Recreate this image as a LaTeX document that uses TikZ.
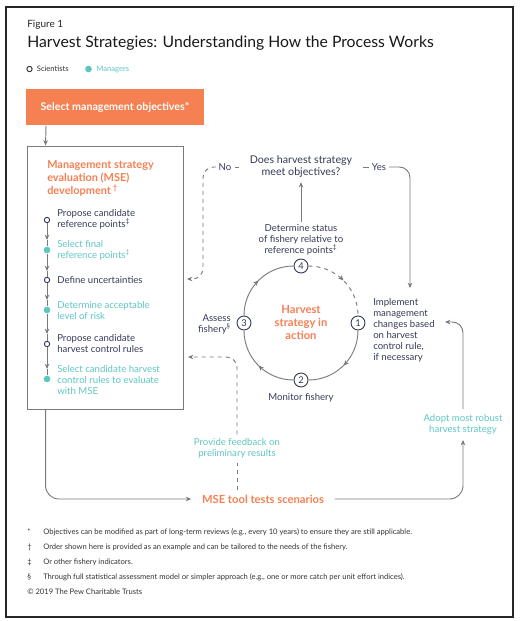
\documentclass[tikz,border=0pt]{standalone}
\usepackage{fontspec}
\setmainfont{Lato}
\usetikzlibrary{calc,arrows.meta,positioning,decorations.markings,fit}
\definecolor{pewor}{HTML}{F58052}
\definecolor{pewteal}{HTML}{5EC6C1}
\definecolor{pewnavy}{HTML}{343C55}
\definecolor{pewgray}{HTML}{7A7A7A}
\tikzset{
  lnk/.style={draw=pewgray, line width=0.7pt},
  flow/.style={lnk, -{Stealth[length=4pt, width=3.4pt]}},
  midarr/.style={postaction={decorate}, decoration={markings,
    mark=at position 0.5 with {\arrow[pewgray]{Stealth[length=4pt, width=3.4pt]}}}},
  snode/.style={circle, draw=pewnavy, fill=white, line width=0.7pt, inner sep=0pt, minimum size=4pt},
  mnode/.style={circle, fill=pewteal, inner sep=0pt, minimum size=5pt},
  cnode/.style={circle, draw=pewnavy, fill=white, line width=0.7pt, inner sep=0pt,
    minimum size=10.5pt, font=\fontsize{7}{8}\selectfont, text=pewnavy},
  stxt/.style={anchor=west, align=left, inner sep=0pt, text=pewnavy, font=\fontsize{7.2}{8.2}\selectfont},
  mtxt/.style={stxt, text=pewteal},
  ctxt/.style={align=center, inner sep=2pt, text=pewnavy, font=\fontsize{7.2}{8.2}\selectfont},
  otxt/.style={text=pewor, font=\bfseries\fontsize{8.4}{9.6}\selectfont},
  fnote/.style={anchor=west, inner sep=0pt, text=black!80, font=\fontsize{5.7}{7}\selectfont},
}
\begin{document}
\begin{tikzpicture}[x=0.75pt, y=-0.75pt]
  \useasboundingbox (0,0) rectangle (520,621);
  \draw[line width=0.8pt, black!85] (6,7) rectangle (513,617);

  % --- Heading and legend ---
  \node[anchor=west, inner sep=0pt, font=\fontsize{7.5}{9}\selectfont, text=black!85] (fig) at (27,25) {Figure 1};
  \node[anchor=west, inner sep=0pt, font=\fontsize{11.8}{14}\selectfont, text=black!90] (title) at (27,43)
    {Harvest Strategies: Understanding How the Process Works};
  \node[snode, draw=black!80] (lsci) at (29.5,69) {};
  \node[right=3pt of lsci, inner sep=0pt, font=\fontsize{5.7}{6}\selectfont, text=black!80] (lscit) {Scientists};
  \node[mnode, right=12pt of lscit] (lman) {};
  \node[right=3pt of lman, inner sep=0pt, font=\fontsize{5.7}{6}\selectfont, text=pewteal] (lmant) {Managers};

  % --- Objectives and MSE development ---
  \node[anchor=north west, fill=pewor, text=white, font=\bfseries\fontsize{8}{10}\selectfont,
    minimum width=133pt, minimum height=27pt, inner sep=0pt] (select) at (26,89) {Select management objectives*};
  \coordinate (mseTL) at (27,146);
  \coordinate (mseBR) at (183,409);
  \node[fit=(mseTL)(mseBR), inner sep=0pt, lnk] (mse) {};
  \draw[flow] ($(select.south west)+(20,0)$) -- ($(mse.north west)+(19,0)$);
  \node[anchor=north west, inner sep=0pt, align=left, text=pewor, font=\bfseries\fontsize{8.2}{9.8}\selectfont]
    (msettl) at (47,160) {Management strategy\\evaluation (MSE)\\development\,\textsuperscript{†}};

  \node[stxt] (t1) at (57,219.5) {Propose candidate\\reference points\textsuperscript{‡}};
  \node[mtxt] (t2) at (57,250.5) {Select final\\reference points\textsuperscript{‡}};
  \node[stxt] (t3) at (57,280) {Define uncertainties};
  \node[mtxt] (t4) at (57,310.5) {Determine acceptable\\level of risk};
  \node[stxt] (t5) at (57,343.5) {Propose candidate\\harvest control rules};
  \node[mtxt] (t6) at (57,380) {Select candidate harvest\\control rules to evaluate\\with MSE};
  \coordinate (a2) at (47,240);
  \coordinate (a3) at (47,271);
  \coordinate (a4) at (47,300);
  \coordinate (a5) at (47,334);
  \coordinate (a6) at (47,369);
  \node[snode] (s1) at (47,220) {};
  \node[mnode] (s2) at (47,250) {};
  \node[snode] (s3) at (47,280) {};
  \node[mnode] (s4) at (47,310) {};
  \node[snode] (s5) at (47,344) {};
  \node[mnode] (s6) at (47,379) {};
  \foreach \i/\j in {1/2,2/3,3/4,4/5,5/6}{
    \draw[flow] (s\i) -- (a\j);
    \draw[lnk] (a\j) -- (s\j);
  }

  % --- Harvest strategy in action ---
  \node[cnode] (n1) at (358,323) {1};
  \node[cnode] (n2) at (301,380) {2};
  \node[cnode] (n3) at (244,323) {3};
  \node[cnode] (n4) at (301,266) {4};
  \draw[lnk, midarr] (n1) to[bend left=45] (n2);
  \draw[lnk, midarr] (n2) to[bend left=45] (n3);
  \draw[lnk, midarr] (n3) to[bend left=45] (n4);
  \draw[lnk, dashed, midarr] (n4) to[bend left=45] (n1);
  \node[align=center, text=pewor, font=\bfseries\fontsize{8.4}{9.4}\selectfont] (hsa) at (301,322.5)
    {Harvest\\strategy in\\action};

  \node[stxt, anchor=north west] (impl) at (373,298.5)
    {Implement\\management\\changes based\\on harvest\\control rule,\\if necessary};
  \node[ctxt] (monit) at (301,398) {Monitor fishery};
  \node[stxt, anchor=east, align=right] (assess) at (231,324.5) {Assess\\fishery\textsuperscript{§}};
  \node[ctxt] (determ) at (301,240) {Determine status\\of fishery relative to\\reference points\textsuperscript{‡}};

  % --- Decision ---
  \node[align=center, text=pewnavy, inner xsep=8pt, inner ysep=3pt, font=\fontsize{8}{9}\selectfont]
    (quest) at (301,167) {Does harvest strategy\\meet objectives?};
  \node[inner sep=2pt, text=pewnavy, font=\fontsize{7.2}{8}\selectfont] (yes) at (379,167) {Yes};
  \node[inner sep=2pt, text=pewnavy, font=\fontsize{7.2}{8}\selectfont] (no) at (225,167) {No};
  \coordinate (yesend) at (410,288);
  \coordinate (noend) at (187,279);
  \draw[flow] (determ) -- (quest);
  \draw[lnk] (quest) -- (yes);
  \draw[flow, rounded corners=8] (yes) -| (yesend);
  \draw[lnk, dashed] (quest) -- (no);
  \draw[flow, dashed, rounded corners=8] (no) -| (203,279) -- (noend);

  % --- MSE tool loop ---
  \node[otxt, inner xsep=8pt] (msetool) at (263,499) {MSE tool tests scenarios};
  \node[mtxt, anchor=center, align=center, inner sep=3pt] (feedb) at (237,448.5)
    {Provide feedback on\\preliminary results};
  \node[mtxt, anchor=center, align=center, inner sep=4pt] (adopt) at (463,424.5)
    {Adopt most robust\\harvest strategy};
  \coordinate (fbend) at (188,357);
  \coordinate (adend) at (445,322);
  \draw[flow, rounded corners=10] ($(mse.south west)+(19,0)$) |- (msetool.west);
  \draw[flow, rounded corners=10] (msetool.east) -| (adopt.south);
  \draw[flow, rounded corners=8] (adopt.north) |- (adend);
  \draw[lnk, dashed] (feedb |- msetool.north) -- (feedb.south);
  \draw[flow, dashed, rounded corners=8] (feedb.north) |- (fbend);

  % --- Footnotes ---
  \node[fnote] (f1s) at (27,532) {*};
  \node[fnote] (f1) at (43,532) {Objectives can be modified as part of long-term reviews (e.g., every 10 years) to ensure they are still applicable.};
  \node[fnote] (f2s) at (27,547) {†};
  \node[fnote] (f2) at (43,547) {Order shown here is provided as an example and can be tailored to the needs of the fishery.};
  \node[fnote] (f3s) at (27,562) {‡};
  \node[fnote] (f3) at (43,562) {Or other fishery indicators.};
  \node[fnote] (f4s) at (27,577) {§};
  \node[fnote] (f4) at (43,577) {Through full statistical assessment model or simpler approach (e.g., one or more catch per unit effort indices).};
  \node[fnote] (copy) at (27,592) {© 2019 The Pew Charitable Trusts};
\end{tikzpicture}
\end{document}
